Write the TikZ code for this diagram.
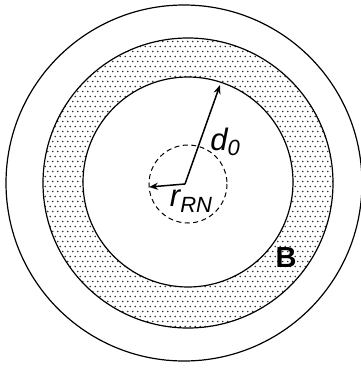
\documentclass[tikz,border=0pt]{standalone}
\usepackage{fontspec}
\setmainfont{Liberation Sans}
\usetikzlibrary{arrows.meta,patterns.meta}
\tikzdeclarepattern{name=stipple,type=uncolored,bounding box={(0,0) and (5pt,10pt)},tile size={(5pt,10pt)},code={
  \fill (1.25pt,2.5pt) circle (0.85pt);
  \fill (3.75pt,7.5pt) circle (0.85pt);}}
\tikzset{
  ring/.style={draw=black,line width=1.2pt},
  radius arrow/.style={line width=1.5pt,-{Stealth[length=9pt,width=7pt]}},
  lab/.style={inner sep=0pt,font=\fontsize{31}{32}\selectfont\itshape},
}
\begin{document}
\begin{tikzpicture}[x=1pt,y=-1pt]
\useasboundingbox (0,0) rectangle (361,368);
\fill[white] (0,0) rectangle (361,368);
\coordinate (c) at (185,184);
\draw[ring] (184,183) circle (178);
\fill[pattern={stipple},pattern color=black!80] (188,183) circle (145);
\fill[white] (188,182) circle (105);
\draw[ring] (188,183) circle (145);
\draw[ring] (188,182) circle (105);
\draw[line width=1pt,dash pattern=on 5pt off 3.5pt] (188,184) circle (39);
\coordinate (dtip) at (220,85);
\coordinate (rtip) at (149,187);
\draw[radius arrow] (c) -- (dtip);
\draw[radius arrow] (c) -- (rtip);
\node[lab] (d0) at (225,142) {d\raisebox{-5pt}{\fontsize{22}{22}\selectfont 0}};
\node[lab] (rrn) at (191,201) {r\raisebox{-6pt}{\fontsize{22}{22}\selectfont RN}};
\node[inner sep=0pt,font=\fontsize{29}{29}\selectfont\bfseries] (B) at (286,258) {B};
\end{tikzpicture}
\end{document}
